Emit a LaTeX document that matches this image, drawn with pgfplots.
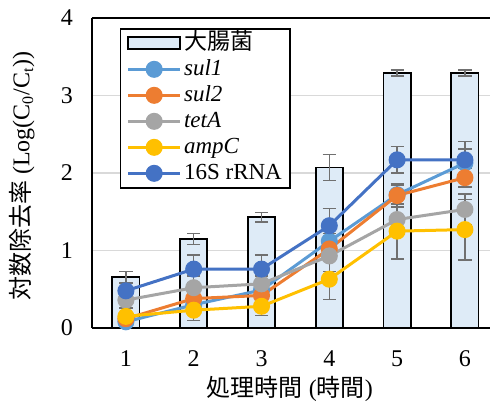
\documentclass[border=0pt]{standalone}
\usepackage{fontspec}
\setmainfont{Liberation Serif}
\newfontfamily\cjk{Noto Sans CJK JP}
\usepackage{pgfplots}
\usepackage{pgfplotstable}
\pgfplotsset{compat=1.18}
\definecolor{barfill}{HTML}{DEEBF7}
\definecolor{csul1}{HTML}{5B9BD5}
\definecolor{csul2}{HTML}{ED7D31}
\definecolor{ctet}{HTML}{A5A5A5}
\definecolor{camp}{HTML}{FFC000}
\definecolor{c16s}{HTML}{4472C4}
\definecolor{errgray}{HTML}{707070}
\definecolor{gridgray}{HTML}{D9D9D9}

\pgfplotstableread{
x y e
1 0.66 0.07
2 1.15 0.07
3 1.43 0.06
4 2.07 0.17
5 3.29 0.04
6 3.29 0.04
}\ecoli
\pgfplotstableread{
x y e
1 0.08 0.03
2 0.30 0.05
3 0.49 0.06
4 1.12 0.10
5 1.72 0.12
6 2.13 0.18
}\sulone
\pgfplotstableread{
x y e
1 0.12 0.03
2 0.38 0.10
3 0.42 0.10
4 1.02 0.12
5 1.71 0.15
6 1.94 0.12
}\sultwo
\pgfplotstableread{
x y e
1 0.36 0.10
2 0.52 0.15
3 0.57 0.10
4 0.93 0.20
5 1.40 0.20
6 1.53 0.20
}\tetA
\pgfplotstableread{
x y e
1 0.15 0.05
2 0.23 0.13
3 0.28 0.12
4 0.63 0.26
5 1.25 0.36
6 1.27 0.39
}\ampC
\pgfplotstableread{
x y e
1 0.48 0.10
2 0.76 0.18
3 0.76 0.18
4 1.32 0.22
5 2.17 0.17
6 2.17 0.24
}\rrna

\begin{document}
\begin{tikzpicture}
\begin{axis}[
  scale only axis,
  width=199pt, height=155pt,
  at={(0,0)}, anchor=south west,
  xmin=0.5, xmax=6.37, ymin=0, ymax=4,
  axis x line*=box, axis y line*=left,
  axis line style={black, line width=1pt},
  xtick={1,2,3,4,5,6}, ytick={0,1,2,3,4},
  major tick length=0pt,
  ymajorgrids, grid style={gridgray, line width=0.75pt},
  /pgf/number format/assume math mode=true,
  tick label style={font=\rmfamily\fontsize{12}{14}\selectfont},
  yticklabel style={xshift=-6pt},
  xticklabel style={yshift=-8pt},
  xlabel={{\cjk 処理時間} ({\cjk 時間})},
  ylabel={{\cjk 対数除去率} (Log(C\textsubscript{0}/C\textsubscript{t}))},
  label style={font=\rmfamily\fontsize{12}{14}\selectfont},
  xlabel style={at={(axis description cs:0.497,-0.197)}, anchor=center},
  ylabel style={at={(axis description cs:-0.176,0.49)}, anchor=center},
  legend style={at={(axis description cs:0.07,0.968)}, anchor=north west,
    draw=black, line width=0.8pt, fill=white,
    font=\rmfamily\fontsize{11.5}{13}\selectfont,
    inner xsep=3pt, inner ysep=0.8pt, row sep=0pt,
    nodes={inner sep=1.2pt, text height=8.2pt, text depth=2.4pt}},
  legend cell align=left,
  legend image code/.code={\draw[mark repeat=2,mark phase=2,#1] plot coordinates {(0pt,0pt)(13pt,0pt)(26pt,0pt)};},
  every axis plot/.append style={line width=1.5pt},
  error bars/error bar style={errgray, line width=0.7pt},
  error bars/error mark options={rotate=90, mark size=3.3pt, errgray, line width=0.7pt},
]
\addplot[ybar, bar width=0.4, fill=barfill, draw=black, line width=0.9pt,
  legend image code/.code={\draw[fill=barfill, draw=black, line width=0.9pt] (0pt,-3pt) rectangle (26pt,3pt);},
  error bars/.cd, y dir=both, y explicit]
  table[x=x, y=y, y error=e]{\ecoli};
\addplot[csul1, mark=*, mark size=3.5pt, error bars/.cd, y dir=both, y explicit]
  table[x=x, y=y, y error=e]{\sulone};
\addplot[csul2, mark=*, mark size=3.5pt, error bars/.cd, y dir=both, y explicit]
  table[x=x, y=y, y error=e]{\sultwo};
\addplot[ctet, mark=*, mark size=3.5pt, error bars/.cd, y dir=both, y explicit]
  table[x=x, y=y, y error=e]{\tetA};
\addplot[camp, mark=*, mark size=3.5pt, error bars/.cd, y dir=both, y explicit]
  table[x=x, y=y, y error=e]{\ampC};
\addplot[c16s, mark=*, mark size=3.5pt, error bars/.cd, y dir=both, y explicit]
  table[x=x, y=y, y error=e]{\rrna};
\legend{{\cjk 大腸菌}, {\rmfamily\itshape sul1}, {\rmfamily\itshape sul2}, {\rmfamily\itshape tetA}, {\rmfamily\itshape ampC}, {\rmfamily 16S rRNA}}
\end{axis}
\pgfresetboundingbox
\path[use as bounding box] (-46pt,-38pt) rectangle (199pt,164pt);
\end{tikzpicture}
\end{document}
